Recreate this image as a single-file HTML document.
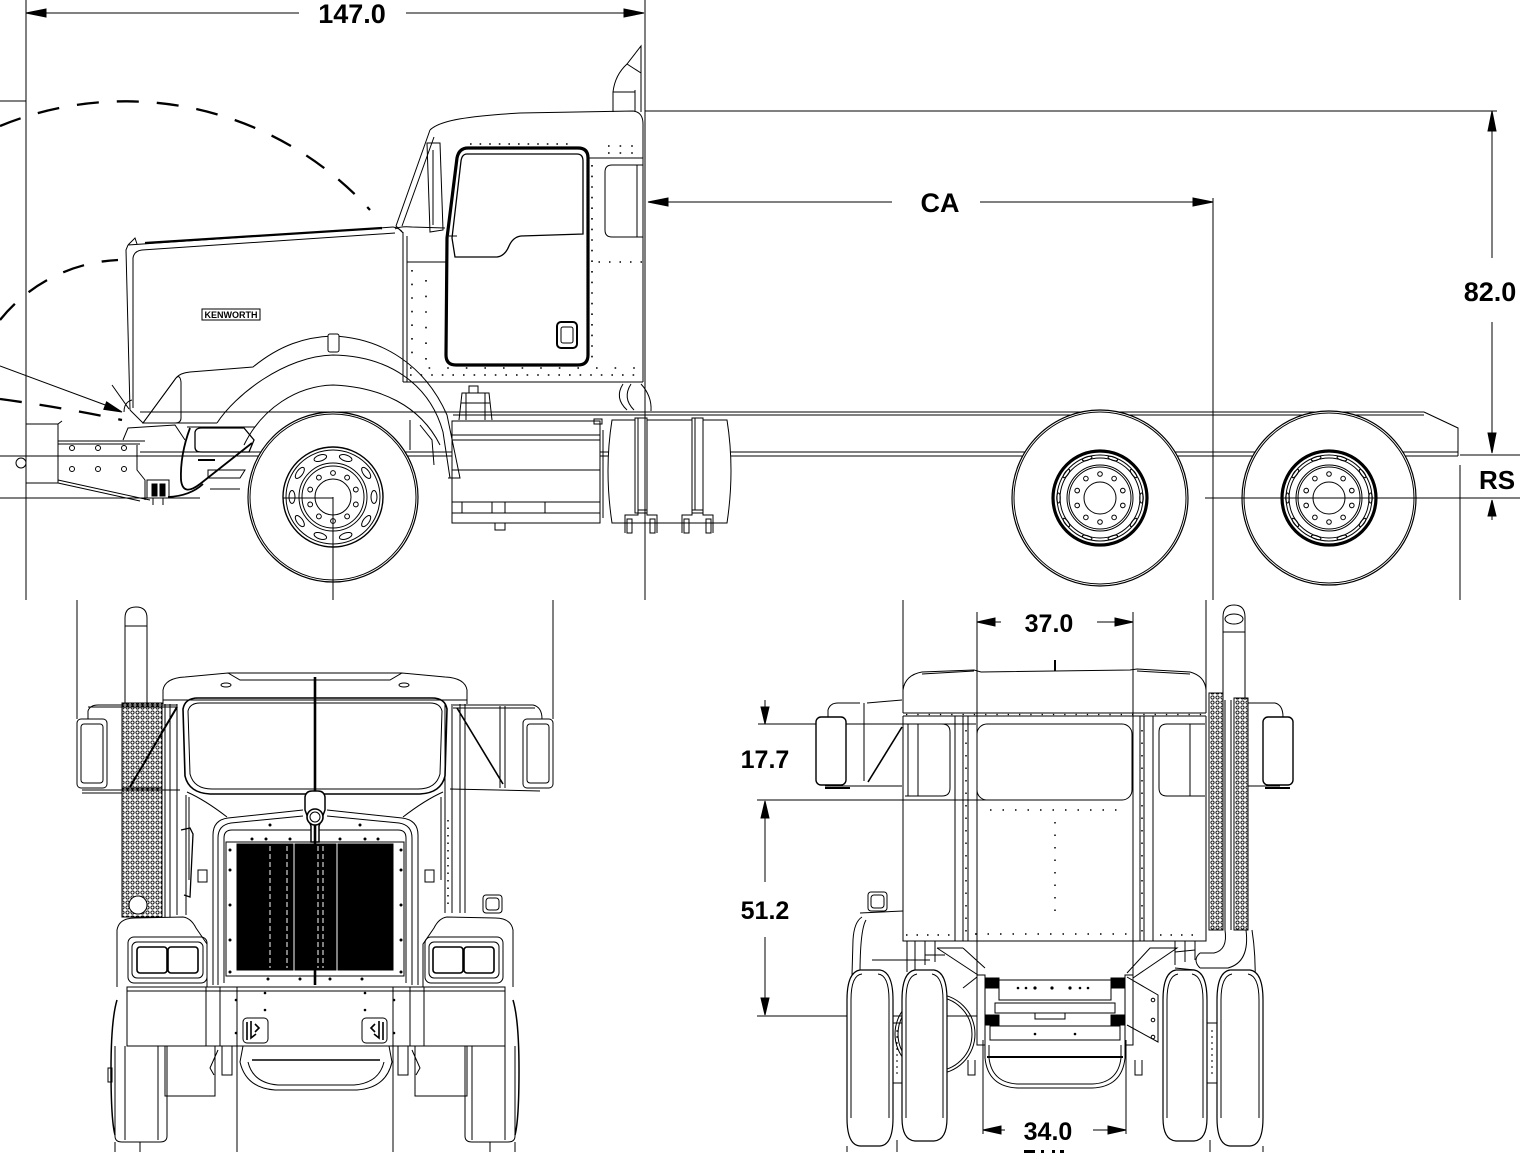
<!DOCTYPE html>
<html><head><meta charset="utf-8"><style>
html,body{margin:0;padding:0;background:#fff;}
svg{display:block;}
text{font-family:"Liberation Sans",sans-serif;font-weight:bold;fill:#000;stroke:none;}
</style></head><body>
<svg width="1526" height="1164" viewBox="0 0 1526 1164" xmlns="http://www.w3.org/2000/svg">
<defs>
<pattern id="perf" width="5" height="5" patternUnits="userSpaceOnUse"><circle cx="2.5" cy="2.5" r="1.6" fill="none" stroke="#000" stroke-width="0.9"/></pattern>
<g id="fhub" fill="none" stroke="#000">
<circle r="50" stroke-width="1.4"/><circle r="47"/>
<ellipse cx="41" cy="0" rx="3" ry="6.5"/>
<ellipse cx="41" cy="0" rx="3" ry="6.5" transform="rotate(36)"/>
<ellipse cx="41" cy="0" rx="3" ry="6.5" transform="rotate(72)"/>
<ellipse cx="41" cy="0" rx="3" ry="6.5" transform="rotate(108)"/>
<ellipse cx="41" cy="0" rx="3" ry="6.5" transform="rotate(144)"/>
<ellipse cx="41" cy="0" rx="3" ry="6.5" transform="rotate(180)"/>
<ellipse cx="41" cy="0" rx="3" ry="6.5" transform="rotate(216)"/>
<ellipse cx="41" cy="0" rx="3" ry="6.5" transform="rotate(252)"/>
<ellipse cx="41" cy="0" rx="3" ry="6.5" transform="rotate(288)"/>
<ellipse cx="41" cy="0" rx="3" ry="6.5" transform="rotate(324)"/>
<circle r="34"/><circle r="31"/>
<circle cx="24" cy="0" r="2.4" transform="rotate(18)"/>
<circle cx="24" cy="0" r="2.4" transform="rotate(54)"/>
<circle cx="24" cy="0" r="2.4" transform="rotate(90)"/>
<circle cx="24" cy="0" r="2.4" transform="rotate(126)"/>
<circle cx="24" cy="0" r="2.4" transform="rotate(162)"/>
<circle cx="24" cy="0" r="2.4" transform="rotate(198)"/>
<circle cx="24" cy="0" r="2.4" transform="rotate(234)"/>
<circle cx="24" cy="0" r="2.4" transform="rotate(270)"/>
<circle cx="24" cy="0" r="2.4" transform="rotate(306)"/>
<circle cx="24" cy="0" r="2.4" transform="rotate(342)"/>
<circle r="18"/>
</g>
<g id="rhub" fill="none" stroke="#000">
<circle r="47" stroke-width="3.2"/><circle r="43"/><circle r="40"/>
<ellipse cx="41.5" cy="0" rx="1.8" ry="5"/>
<ellipse cx="41.5" cy="0" rx="1.8" ry="5" transform="rotate(36)"/>
<ellipse cx="41.5" cy="0" rx="1.8" ry="5" transform="rotate(72)"/>
<ellipse cx="41.5" cy="0" rx="1.8" ry="5" transform="rotate(108)"/>
<ellipse cx="41.5" cy="0" rx="1.8" ry="5" transform="rotate(144)"/>
<ellipse cx="41.5" cy="0" rx="1.8" ry="5" transform="rotate(180)"/>
<ellipse cx="41.5" cy="0" rx="1.8" ry="5" transform="rotate(216)"/>
<ellipse cx="41.5" cy="0" rx="1.8" ry="5" transform="rotate(252)"/>
<ellipse cx="41.5" cy="0" rx="1.8" ry="5" transform="rotate(288)"/>
<ellipse cx="41.5" cy="0" rx="1.8" ry="5" transform="rotate(324)"/>
<circle r="33"/><circle r="31"/>
<circle cx="24" cy="0" r="2.3" transform="rotate(18)"/>
<circle cx="24" cy="0" r="2.3" transform="rotate(54)"/>
<circle cx="24" cy="0" r="2.3" transform="rotate(90)"/>
<circle cx="24" cy="0" r="2.3" transform="rotate(126)"/>
<circle cx="24" cy="0" r="2.3" transform="rotate(162)"/>
<circle cx="24" cy="0" r="2.3" transform="rotate(198)"/>
<circle cx="24" cy="0" r="2.3" transform="rotate(234)"/>
<circle cx="24" cy="0" r="2.3" transform="rotate(270)"/>
<circle cx="24" cy="0" r="2.3" transform="rotate(306)"/>
<circle cx="24" cy="0" r="2.3" transform="rotate(342)"/>
<circle r="16"/>
</g>
</defs>
<rect width="1526" height="1164" fill="#fff"/>

<g fill="none" stroke="#000" stroke-width="1">

<!-- ================= SIDE VIEW ================= -->
<line x1="26" y1="0" x2="26" y2="600"/>
<line x1="645" y1="0" x2="645" y2="600"/>
<line x1="26" y1="13" x2="299" y2="13"/>
<line x1="406" y1="13" x2="644" y2="13"/>
<polygon points="26,13 46,9 46,17" fill="#000"/>
<polygon points="644,13 624,9 624,17" fill="#000"/>
<line x1="0" y1="101" x2="26" y2="101"/>

<g stroke-width="2.3" stroke-dasharray="22 18">
<path d="M 0,126 A 330 330 0 0 1 370,210"/>
<path d="M 0,320 A 160 160 0 0 1 118,260"/>
<path d="M 0,399 Q 60,407 122,420"/>
</g>
<line x1="0" y1="366" x2="108" y2="406"/>
<polygon points="122,412 103.8,409.3 106.6,401.9" fill="#000"/>
<line x1="112" y1="385" x2="129" y2="409"/>
<path d="M 124,412 Q 124,402 132,400"/>

<line x1="648" y1="202" x2="892" y2="202"/>
<line x1="980" y1="202" x2="1213" y2="202"/>
<polygon points="648,202 668,198 668,206" fill="#000"/>
<polygon points="1213,202 1193,198 1193,206" fill="#000"/>
<line x1="1213" y1="198" x2="1213" y2="600"/>

<line x1="645" y1="111" x2="1497" y2="111"/>
<line x1="1492" y1="111" x2="1492" y2="258"/>
<line x1="1492" y1="322" x2="1492" y2="453"/>
<polygon points="1492,111 1488,131 1496,131" fill="#000"/>
<polygon points="1492,453 1488,433 1496,433" fill="#000"/>
<line x1="1460" y1="455" x2="1520" y2="455"/>
<line x1="1492" y1="500" x2="1492" y2="520"/>
<polygon points="1492,500 1488,516 1496,516" fill="#000"/>
<line x1="1460" y1="465" x2="1460" y2="600"/>

<line x1="140" y1="412" x2="1424" y2="412"/>
<line x1="453" y1="415" x2="1424" y2="415"/>
<path d="M 1424,412 L 1458,428 L 1458,456"/>
<line x1="140" y1="452" x2="1458" y2="452"/>
<line x1="0" y1="456" x2="1458" y2="456"/>
<line x1="187" y1="427" x2="255" y2="427"/>
<line x1="0" y1="498" x2="200" y2="498"/>

<path d="M 613,112 L 613,92 Q 615,75 627,64 L 641,46 L 641,112"/>
<line x1="635" y1="90" x2="635" y2="112"/>
<line x1="613" y1="92" x2="635" y2="92"/>
<line x1="627" y1="64" x2="641" y2="73"/>

<path d="M 430,130 C 440,120 470,116 520,113 L 633,111 Q 643,112 643,124 L 643,382"/>
<path d="M 430,130 L 396,226 L 402,232"/>
<path d="M 434,137 L 402,226"/>
<path d="M 427,143 L 440,143 L 443,230 L 430,232 Z"/>
<line x1="433" y1="150" x2="433" y2="225"/>
<path d="M 395,229 Q 400,226 412,227 L 445,228"/>
<line x1="403" y1="232" x2="403" y2="382"/>
<line x1="407" y1="236" x2="407" y2="382"/>
<line x1="403" y1="382" x2="643" y2="382"/>
<line x1="407" y1="262" x2="447" y2="262"/>
<line x1="588" y1="158" x2="643" y2="158"/>
<path d="M 643,165 L 612,165 Q 605,165 605,172 L 605,230 Q 605,237 612,237 L 643,237"/>
<line x1="637" y1="165" x2="637" y2="237"/>
<line x1="588" y1="262" x2="643" y2="262" stroke-dasharray="1.5 9" stroke-width="1.5"/>
<path d="M 468,148 L 578,148 Q 588,148 588,158 L 588,355 Q 588,365 578,365 L 456,365 Q 446,365 446,355 L 447,238 L 457,158 Q 459,148 468,148 Z" stroke-width="3.2"/>
<path d="M 467,154 L 577,154 Q 583,154 583,161 L 583,234 L 521,236 Q 513,237 509,246 Q 505,256 497,257 L 455,257 L 452,238 L 461,161 Q 462,154 467,154 Z" stroke-width="1.3"/>
<path d="M 449,236 L 457,236"/>
<rect x="557" y="322" width="20" height="26" rx="4" stroke-width="2"/>
<rect x="561" y="327" width="12" height="16" rx="2"/>
<g stroke-width="1.6">
<line x1="592" y1="165" x2="592" y2="360" stroke-dasharray="1.6 9"/>
<line x1="412" y1="270" x2="412" y2="365" stroke-dasharray="1.6 12"/>
<line x1="426" y1="280" x2="426" y2="365" stroke-dasharray="1.6 14"/>
<line x1="410" y1="375" x2="640" y2="375" stroke-dasharray="1.6 9"/>
<line x1="410" y1="368" x2="640" y2="368" stroke-dasharray="1.6 17"/>
<line x1="608" y1="146" x2="640" y2="146" stroke-dasharray="1.6 10"/>
<line x1="608" y1="153" x2="640" y2="153" stroke-dasharray="1.6 10"/>
<line x1="470" y1="144" x2="575" y2="144" stroke-dasharray="1.6 8"/>
</g>
<path d="M 623,384 Q 614,398 627,410"/>
<path d="M 631,384 Q 622,398 634,410"/>
<path d="M 641,384 Q 652,396 651,411"/>
<path d="M 459,420 L 462,393 L 489,393 L 492,420"/>
<rect x="469" y="386" width="9" height="7"/>
<line x1="461" y1="403" x2="490" y2="403"/>
<line x1="466" y1="393" x2="466" y2="420"/>
<line x1="485" y1="393" x2="485" y2="420"/>

<rect x="452" y="421" width="148" height="102" fill="#fff"/>
<line x1="452" y1="435" x2="600" y2="435"/>
<line x1="452" y1="440" x2="600" y2="440"/>
<line x1="452" y1="470" x2="600" y2="470"/>
<line x1="452" y1="502" x2="600" y2="502"/>
<line x1="452" y1="513" x2="600" y2="513"/>
<line x1="462" y1="502" x2="462" y2="513"/>
<line x1="492" y1="502" x2="492" y2="513"/>
<line x1="505" y1="502" x2="505" y2="513"/>
<line x1="545" y1="502" x2="545" y2="513"/>
<rect x="594" y="419" width="8" height="5"/>
<rect x="495" y="523" width="10" height="7"/>
<line x1="603" y1="430" x2="603" y2="518"/>

<path d="M 612,420 L 727,420 Q 735,470 727,523 L 612,523 Q 604,470 612,420 Z" fill="#fff"/>
<rect x="635" y="418" width="12" height="95" fill="#fff"/>
<line x1="638" y1="418" x2="638" y2="510"/>
<rect x="692" y="418" width="11" height="95" fill="#fff"/>
<line x1="695" y1="418" x2="695" y2="510"/>
<line x1="645" y1="418" x2="645" y2="540"/>
<path d="M 625,533 L 625,515 L 638,515 L 638,510 L 647,510 L 647,515 L 657,515 L 657,533"/>
<rect x="627" y="519" width="5" height="14"/><rect x="650" y="519" width="5" height="14"/>
<path d="M 682,533 L 682,515 L 692,515 L 692,510 L 703,510 L 703,515 L 713,515 L 713,533"/>
<rect x="684" y="519" width="5" height="14"/><rect x="706" y="519" width="5" height="14"/>

<circle cx="21" cy="463" r="5" fill="#fff"/>
<rect x="26" y="424" width="32" height="59" fill="#fff"/>
<path d="M 58,424 L 62,421"/>
<line x1="26" y1="456" x2="58" y2="456"/>
<line x1="58" y1="441" x2="145" y2="441"/>
<line x1="58" y1="444" x2="140" y2="444"/>
<path d="M 58,480 L 140,498 L 150,500"/>
<path d="M 58,483 L 140,501"/>
<circle cx="72" cy="448" r="2.5"/><circle cx="98" cy="448" r="2.5"/><circle cx="124" cy="448" r="2.5"/>
<circle cx="72" cy="469" r="2.5"/><circle cx="98" cy="469" r="2.5"/><circle cx="124" cy="469" r="2.5"/>
<path d="M 123,440 L 128,428 L 175,425 L 185,440"/>
<path d="M 137,445 L 137,470 L 145,480 L 145,500"/>
<rect x="147" y="480" width="22" height="18"/>
<rect x="152" y="484" width="5" height="12" fill="#000"/>
<rect x="160" y="484" width="5" height="12" fill="#000"/>
<line x1="153" y1="498" x2="153" y2="505"/><line x1="163" y1="498" x2="163" y2="505"/>
<path d="M 195,432 Q 196,428 201,428 L 244,428 L 254,440 L 249,452 L 201,452 Q 195,452 195,447 Z" stroke-width="1.3"/>
<path d="M 190,428 Q 180,455 181,480 Q 183,497 200,484 L 252,443" stroke-width="1.8"/>
<path d="M 168,497 Q 190,496 203,484" stroke-width="1.8"/>
<path d="M 208,470 L 245,470 L 240,478 L 208,478 Z"/>
<line x1="210" y1="489" x2="240" y2="489"/>
<line x1="198" y1="460" x2="215" y2="460" stroke-width="2"/>

<circle cx="333" cy="497" r="85" fill="#fff" stroke-width="1.2"/>
<circle cx="333" cy="497" r="83"/>
<use href="#fhub" x="333" y="497"/>
<line x1="333" y1="497" x2="333" y2="600"/>
<line x1="283" y1="498" x2="333" y2="498"/>

<path d="M 128,245 L 393,227"/>
<path d="M 145,243 L 382,228" stroke-width="2.2"/>
<path d="M 128,245 L 126,250 L 130,410"/>
<path d="M 128,245 L 135,238 L 137,244"/>
<path d="M 133,408 L 133,258 Q 134,251 142,250 L 395,233"/>
<path d="M 393,227 Q 400,228 403,233"/>
<rect x="202" y="309" width="58" height="11"/>
<text x="231" y="318" font-size="9" text-anchor="middle" font-weight="normal">KENWORTH</text>

<path d="M 130,410 L 143,423 L 176,378 Q 180,373 190,372 L 253,367 C 280,345 305,337 333,336 C 382,338 425,365 447,415 L 460,478 L 448,478"/>
<path d="M 143,423 L 176,378 Q 180,374 181,382 L 181,418 Q 181,423 175,423 Z"/>
<path d="M 143,423 L 217,423"/>
<path d="M 217,423 C 235,395 285,356 333,355 C 390,356 430,385 443,432 L 450,478"/>
<path d="M 244,445 C 262,408 297,386 333,385 C 380,387 420,405 440,445"/>
<rect x="328" y="334" width="11" height="18" rx="2" fill="#fff"/>
<path d="M 420,425 L 432,440 L 434,465"/>
<path d="M 410,420 L 410,450"/>

<circle cx="1100" cy="498" r="88" fill="#fff" stroke-width="1.2"/>
<circle cx="1100" cy="498" r="86"/>
<use href="#rhub" x="1100" y="498"/>
<circle cx="1329" cy="498" r="87" fill="#fff" stroke-width="1.2"/>
<circle cx="1329" cy="498" r="85"/>
<use href="#rhub" x="1329" y="498"/>
<line x1="1205" y1="498" x2="1520" y2="498"/>
<line x1="1213" y1="420" x2="1213" y2="600"/>

<!-- ================= FRONT VIEW ================= -->
<line x1="77" y1="600" x2="77" y2="719"/>
<line x1="553" y1="600" x2="553" y2="719"/>
<path d="M 125,704 L 125,618 Q 125,607 136,607 Q 147,607 147,618 L 147,704"/>
<line x1="125" y1="626" x2="147" y2="626"/>
<path d="M 163,704 L 163,690 Q 165,678 185,677 L 228,673 L 240,680 L 390,680 L 402,673 L 445,677 Q 465,678 467,690 L 467,704"/>
<path d="M 228,673 L 402,673"/>
<ellipse cx="226" cy="685" rx="5" ry="2"/><ellipse cx="404" cy="685" rx="5" ry="2"/>
<line x1="163" y1="700" x2="467" y2="700"/>
<path d="M 183,709 Q 185,698 198,698 L 432,698 Q 445,698 447,709 L 445,776 Q 441,793 420,794 L 210,794 Q 189,793 185,776 Z" stroke-width="1.6"/>
<path d="M 188,711 Q 190,703 200,703 L 430,703 Q 440,703 442,711 L 440,774 Q 436,789 418,789 L 212,789 Q 194,789 190,774 Z"/>
<rect x="122" y="703" width="40" height="214" fill="url(#perf)"/>
<rect x="122" y="703" width="40" height="214"/>
<line x1="122" y1="788" x2="162" y2="788"/>
<circle cx="138" cy="905" r="9" fill="#fff"/>
<line x1="177" y1="707" x2="130" y2="787" stroke-width="2"/>
<path d="M 88,719 L 88,711 Q 90,705 98,705 L 177,705"/>
<line x1="88" y1="707" x2="177" y2="707"/>
<rect x="77" y="719" width="30" height="69" rx="4" fill="#fff"/>
<rect x="81" y="724" width="22" height="59" rx="3"/>
<line x1="82" y1="790" x2="180" y2="790"/>
<line x1="82" y1="793" x2="122" y2="793"/>
<path d="M 453,705 L 533,705 Q 542,707 542,719"/>
<line x1="453" y1="708" x2="535" y2="708"/>
<rect x="523" y="719" width="30" height="69" rx="4" fill="#fff"/>
<rect x="527" y="724" width="22" height="59" rx="3"/>
<line x1="505" y1="706" x2="505" y2="788"/>
<line x1="500" y1="706" x2="500" y2="788"/>
<line x1="450" y1="789" x2="540" y2="791"/>
<line x1="457" y1="708" x2="503" y2="784" stroke-width="1.6"/>
<line x1="165" y1="704" x2="165" y2="917"/>
<line x1="170" y1="704" x2="170" y2="917"/>
<line x1="177" y1="704" x2="177" y2="915"/>
<line x1="186" y1="795" x2="186" y2="915"/>
<path d="M 181,830 L 190,828 L 193,834 L 190,897 L 184,895" stroke-width="1.3"/>
<line x1="445" y1="704" x2="445" y2="913"/>
<line x1="452" y1="704" x2="452" y2="913"/>
<line x1="460" y1="704" x2="460" y2="913"/>
<line x1="465" y1="704" x2="465" y2="913"/>
<line x1="448" y1="820" x2="448" y2="910" stroke-dasharray="1.5 6" stroke-width="1.5"/>
<path d="M 187,792 Q 205,800 227,817"/>
<path d="M 443,792 Q 425,800 403,817"/>
<path d="M 189,797 L 189,880"/><path d="M 441,797 L 441,880"/>
<rect x="198" y="870" width="9" height="12"/><rect x="425" y="870" width="9" height="12"/>
<rect x="483" y="895" width="19" height="18" rx="3"/><rect x="486" y="898" width="13" height="12" rx="3"/>
<path d="M 213,985 L 213,835 Q 213,820 228,818 L 303,810"/>
<path d="M 327,810 L 402,818 Q 418,820 418,835 L 418,985"/>
<path d="M 218,985 L 218,838 Q 218,825 231,823 L 303,816"/>
<path d="M 327,816 L 399,823 Q 412,825 412,838 L 412,985"/>
<path d="M 224,983 L 224,838 Q 224,830 232,830 L 398,830 Q 406,830 406,838 L 406,983"/>
<rect x="226" y="842" width="178" height="134"/>
<rect x="237" y="844" width="56" height="126" fill="#000"/>
<rect x="295" y="844" width="41" height="126" fill="#000"/>
<rect x="338" y="844" width="55" height="126" fill="#000"/>
<g stroke="#fff" stroke-dasharray="5 3">
<line x1="270" y1="846" x2="270" y2="968"/>
<line x1="287" y1="846" x2="287" y2="968"/>
<line x1="318" y1="846" x2="318" y2="968"/>
<line x1="323" y1="846" x2="323" y2="968"/>
</g>
<g fill="#000" stroke="none">
<circle cx="230" cy="850" r="1.5"/><circle cx="230" cy="870" r="1.5"/><circle cx="230" cy="905" r="1.5"/><circle cx="230" cy="940" r="1.5"/><circle cx="230" cy="972" r="1.5"/>
<circle cx="401" cy="850" r="1.5"/><circle cx="401" cy="870" r="1.5"/><circle cx="401" cy="905" r="1.5"/><circle cx="401" cy="940" r="1.5"/><circle cx="401" cy="972" r="1.5"/>
<circle cx="270" cy="825" r="1.5"/><circle cx="360" cy="825" r="1.5"/>
<circle cx="252" cy="839" r="1.5"/><circle cx="266" cy="839" r="1.5"/><circle cx="290" cy="839" r="1.5"/><circle cx="340" cy="839" r="1.5"/><circle cx="365" cy="839" r="1.5"/><circle cx="378" cy="839" r="1.5"/>
<circle cx="268" cy="979" r="1.5"/><circle cx="300" cy="979" r="1.5"/><circle cx="330" cy="979" r="1.5"/><circle cx="362" cy="979" r="1.5"/>
</g>
<line x1="315" y1="677" x2="315" y2="985" stroke-width="2.6"/>
<path d="M 305,810 L 305,797 Q 306,791 312,791 L 318,791 Q 324,791 325,797 L 325,810 Q 322,818 319,826 L 319,842 L 311,842 L 311,826 Q 308,818 305,810 Z" fill="#fff" stroke-width="1.5"/>
<circle cx="315" cy="817" r="8" fill="#fff" stroke-width="1.6"/>
<circle cx="315" cy="817" r="5"/>
<line x1="315" y1="825" x2="315" y2="842" stroke-width="2.6"/>
<path d="M 117,987 L 117,930 Q 119,918 135,918 L 183,917 Q 191,918 196,928 L 207,944 L 207,987"/>
<path d="M 513,987 L 513,930 Q 511,918 495,918 L 447,917 Q 439,918 434,928 L 423,944 L 423,987"/>
<rect x="128" y="937" width="79" height="46" rx="6"/>
<rect x="132" y="942" width="71" height="36" rx="5"/>
<rect x="137" y="947" width="30" height="26" rx="3" stroke-width="1.6"/>
<rect x="168" y="947" width="30" height="26" rx="3" stroke-width="1.6"/>
<rect x="425" y="937" width="78" height="46" rx="6"/>
<rect x="429" y="942" width="70" height="36" rx="5"/>
<rect x="433" y="947" width="30" height="26" rx="3" stroke-width="1.6"/>
<rect x="464" y="947" width="30" height="26" rx="3" stroke-width="1.6"/>
<rect x="127" y="987" width="378" height="59" fill="#fff"/>
<line x1="127" y1="991" x2="505" y2="991"/>
<line x1="206" y1="987" x2="206" y2="1046"/>
<line x1="220" y1="987" x2="220" y2="1046"/>
<line x1="237" y1="987" x2="237" y2="1152"/>
<line x1="393" y1="987" x2="393" y2="1152"/>
<line x1="410" y1="987" x2="410" y2="1046"/>
<line x1="424" y1="987" x2="424" y2="1046"/>
<rect x="243" y="1018" width="25" height="25" rx="4"/>
<path d="M 247,1022 L 247,1040 M 251,1021 L 251,1038 L 256,1034 M 255,1024 L 259,1028 L 255,1032" stroke-width="1.6"/>
<rect x="362" y="1018" width="25" height="25" rx="4"/>
<path d="M 383,1022 L 383,1040 M 379,1021 L 379,1038 L 374,1034 M 375,1024 L 371,1028 L 375,1032" stroke-width="1.6"/>
<g fill="#000" stroke="none">
<circle cx="265" cy="993" r="1.3"/><circle cx="265" cy="1010" r="1.3"/><circle cx="365" cy="993" r="1.3"/><circle cx="365" cy="1010" r="1.3"/>
<circle cx="236" cy="1000" r="1.3"/><circle cx="394" cy="1000" r="1.3"/><circle cx="236" cy="1033" r="1.3"/><circle cx="394" cy="1033" r="1.3"/>
</g>
<path d="M 115,1046 L 115,1136 Q 115,1142 122,1142 L 160,1142 Q 167,1142 167,1136 L 167,1046"/>
<line x1="125" y1="1046" x2="125" y2="1140"/>
<line x1="158" y1="1046" x2="158" y2="1140"/>
<path d="M 117,1000 Q 111,1020 111,1070 Q 111,1120 115,1135" stroke-width="1.5"/>
<rect x="108" y="1068" width="4" height="14"/>
<path d="M 165,1046 L 165,1096 L 215,1096 L 215,1046"/>
<path d="M 465,1046 L 465,1136 Q 465,1142 472,1142 L 508,1142 Q 515,1142 515,1136 L 515,1046"/>
<line x1="472" y1="1046" x2="472" y2="1140"/>
<line x1="505" y1="1046" x2="505" y2="1140"/>
<path d="M 513,1000 Q 519,1020 519,1070 Q 519,1120 515,1135" stroke-width="1.5"/>
<path d="M 415,1046 L 415,1096 L 467,1096 L 467,1046"/>
<path d="M 243,1046 L 240,1062 Q 246,1088 275,1090 L 357,1090 Q 386,1088 392,1062 L 389,1046"/>
<path d="M 248,1062 Q 253,1083 278,1085 L 354,1085 Q 379,1083 384,1062"/>
<line x1="252" y1="1060" x2="380" y2="1060" stroke-width="1.5"/>
<path d="M 222,1046 L 222,1075 L 232,1075 L 232,1046"/>
<path d="M 398,1046 L 398,1075 L 408,1075 L 408,1046"/>
<path d="M 218,1050 L 210,1068 L 214,1075"/>
<path d="M 412,1050 L 420,1068 L 416,1075"/>
<line x1="115" y1="1142" x2="115" y2="1152"/>
<line x1="140" y1="1142" x2="140" y2="1152"/>
<line x1="490" y1="1142" x2="490" y2="1152"/>
<line x1="515" y1="1142" x2="515" y2="1152"/>

<!-- ================= REAR VIEW ================= -->
<line x1="903" y1="600" x2="903" y2="700"/>
<line x1="1206" y1="600" x2="1206" y2="690"/>
<line x1="977" y1="612" x2="977" y2="1042"/>
<line x1="1133" y1="612" x2="1133" y2="1000"/>
<line x1="977" y1="622" x2="1001" y2="622"/>
<line x1="1097" y1="622" x2="1133" y2="622"/>
<polygon points="977,622 995,618 995,626" fill="#000"/>
<polygon points="1133,622 1115,618 1115,626" fill="#000"/>
<line x1="765" y1="700" x2="765" y2="708"/>
<polygon points="765,724 761,707 769,707" fill="#000"/>
<line x1="758" y1="724" x2="976" y2="724"/>
<line x1="757" y1="800" x2="1117" y2="800"/>
<polygon points="765,801 761,818 769,818" fill="#000"/>
<line x1="765" y1="818" x2="765" y2="882"/>
<line x1="765" y1="937" x2="765" y2="999"/>
<polygon points="765,1015 761,998 769,998" fill="#000"/>
<line x1="757" y1="1016" x2="977" y2="1016"/>
<line x1="983" y1="1040" x2="983" y2="1134"/>
<line x1="1126" y1="1040" x2="1126" y2="1134"/>
<line x1="983" y1="1130" x2="1005" y2="1130"/>
<line x1="1093" y1="1130" x2="1126" y2="1130"/>
<polygon points="983,1130 1001,1126 1001,1134" fill="#000"/>
<polygon points="1126,1130 1108,1126 1108,1134" fill="#000"/>
<g fill="#000" stroke="none">
<rect x="1024" y="1150" width="11" height="3"/><rect x="1041" y="1150" width="3" height="3"/><rect x="1052" y="1150" width="3" height="3"/><rect x="1060" y="1150" width="4" height="3"/>
</g>

<path d="M 903,713 L 903,690 Q 905,675 922,672 L 974,670 L 981,672 L 1130,670 L 1137,669 L 1190,672 Q 1205,676 1206,690 L 1206,713"/>
<path d="M 922,674 L 974,671"/><path d="M 1137,671 L 1190,674"/>
<line x1="1055" y1="660" x2="1055" y2="671" stroke-width="2"/>
<line x1="903" y1="713" x2="1206" y2="713"/>
<line x1="903" y1="716" x2="1206" y2="716"/>
<line x1="906" y1="714.5" x2="1203" y2="714.5" stroke-dasharray="1.3 10" stroke-width="1.3"/>
<path d="M 903,716 L 903,941 L 1206,941 L 1206,716"/>
<rect x="977" y="724" width="155" height="76" rx="10"/>
<path d="M 905,724 L 942,724 Q 950,724 950,732 L 950,788 Q 950,796 942,796 L 905,796"/>
<line x1="908" y1="724" x2="908" y2="796"/>
<line x1="918" y1="724" x2="918" y2="796"/>
<path d="M 1205,724 L 1167,724 Q 1159,724 1159,732 L 1159,788 Q 1159,796 1167,796 L 1205,796"/>
<line x1="1190" y1="724" x2="1190" y2="796"/>
<line x1="955" y1="716" x2="955" y2="941"/>
<line x1="963" y1="716" x2="963" y2="941"/>
<line x1="968" y1="716" x2="968" y2="941"/>
<line x1="1140" y1="716" x2="1140" y2="941"/>
<line x1="1144" y1="716" x2="1144" y2="941"/>
<line x1="1153" y1="716" x2="1153" y2="941"/>
<g stroke-width="1.5">
<line x1="966" y1="730" x2="966" y2="935" stroke-dasharray="1.5 11"/>
<line x1="1142" y1="730" x2="1142" y2="935" stroke-dasharray="1.5 11"/>
<line x1="990" y1="810" x2="1120" y2="810" stroke-dasharray="1.5 11"/>
<line x1="1055" y1="822" x2="1055" y2="918" stroke-dasharray="1.5 11"/>
<line x1="975" y1="934" x2="1130" y2="934" stroke-dasharray="1.5 11"/>
<line x1="906" y1="935" x2="950" y2="935" stroke-dasharray="1.5 9"/>
<line x1="1160" y1="935" x2="1200" y2="935" stroke-dasharray="1.5 9"/>
</g>
<path d="M 828,717 L 828,710 Q 830,703 838,703 L 860,703"/>
<line x1="867" y1="703" x2="902" y2="700"/>
<line x1="864" y1="703" x2="864" y2="781"/>
<line x1="902" y1="727" x2="868" y2="782" stroke-width="1.6"/>
<rect x="816" y="717" width="30" height="68" rx="5" fill="#fff" stroke-width="1.4"/>
<line x1="825" y1="786" x2="902" y2="786"/>
<line x1="825" y1="788" x2="850" y2="788" stroke-width="2"/>
<rect x="868" y="892" width="19" height="19" rx="3"/>
<rect x="871" y="895" width="13" height="13" rx="3"/>
<path d="M 860,913 L 903,911"/>
<path d="M 862,917 Q 854,922 853,940 L 852,975"/>
<path d="M 866,920 Q 860,930 860,975"/>
<line x1="872" y1="960" x2="930" y2="960"/>
<path d="M 907,941 L 907,972 M 915,941 L 915,975 M 925,941 L 925,965 M 935,941 L 935,962"/>
<path d="M 1175,941 L 1175,965 M 1185,941 L 1185,962 M 1195,941 L 1195,960"/>
<line x1="925" y1="955" x2="945" y2="955"/>
<path d="M 1223,700 L 1223,617 Q 1223,605 1234,605 Q 1245,605 1245,617 L 1245,700"/>
<ellipse cx="1234" cy="619" rx="9" ry="5"/>
<line x1="1223" y1="632" x2="1245" y2="632"/>
<rect x="1209" y="693" width="14" height="237" fill="url(#perf)"/>
<rect x="1209" y="693" width="14" height="237"/>
<rect x="1234" y="698" width="14" height="232" fill="url(#perf)"/>
<rect x="1234" y="698" width="14" height="232"/>
<line x1="1225" y1="700" x2="1225" y2="930"/>
<line x1="1231" y1="700" x2="1231" y2="930"/>
<path d="M 1246,930 Q 1250,962 1228,968 L 1200,968"/>
<path d="M 1225,930 Q 1228,950 1214,953 L 1200,953"/>
<path d="M 1200,953 Q 1192,960 1200,968"/>
<path d="M 1195,950 L 1175,952 M 1195,970 L 1175,968"/>
<path d="M 1252,930 Q 1256,955 1255,985 L 1252,1000"/>
<path d="M 1248,703 L 1275,703 Q 1283,705 1283,717"/>
<rect x="1263" y="717" width="30" height="68" rx="5" fill="#fff" stroke-width="1.4"/>
<line x1="1248" y1="786" x2="1280" y2="786"/>
<line x1="1265" y1="788" x2="1290" y2="788" stroke-width="2"/>
<circle cx="935" cy="1034" r="40"/>
<circle cx="935" cy="1034" r="37"/>
<path d="M 937,948 L 978,975"/>
<path d="M 963,948 L 985,968"/>
<path d="M 937,948 L 963,948"/>
<path d="M 963,988 L 977,977"/>
<path d="M 1127,973 L 1150,948 L 1177,948 L 1133,978"/>
<path d="M 1127,977 L 1158,995 L 1158,1042 L 1127,1025"/>
<circle cx="1153" cy="1000" r="1.8"/><circle cx="1153" cy="1020" r="1.8"/><circle cx="1153" cy="1037" r="1.8"/>
<rect x="977" y="975" width="8" height="70"/>
<rect x="1125" y="975" width="8" height="70"/>
<rect x="985" y="978" width="14" height="10" fill="#000"/>
<rect x="1111" y="978" width="14" height="10" fill="#000"/>
<rect x="985" y="1015" width="14" height="10" fill="#000"/>
<rect x="1111" y="1015" width="14" height="10" fill="#000"/>
<rect x="999" y="980" width="112" height="20"/>
<rect x="995" y="1003" width="120" height="10"/>
<rect x="990" y="1026" width="130" height="14"/>
<rect x="1035" y="1013" width="30" height="6"/>
<g fill="#000" stroke="none">
<circle cx="1018" cy="988" r="1.3"/><circle cx="1026" cy="988" r="1.3"/><circle cx="1035" cy="988" r="1.6"/><circle cx="1052" cy="988" r="1.6"/><circle cx="1070" cy="988" r="1.6"/><circle cx="1080" cy="988" r="1.3"/><circle cx="1088" cy="988" r="1.3"/>
<circle cx="1035" cy="1034" r="1.3"/><circle cx="1075" cy="1034" r="1.3"/>
</g>
<path d="M 985,1040 L 985,1058 Q 988,1087 1018,1088 L 1092,1088 Q 1122,1087 1125,1058 L 1125,1040"/>
<path d="M 989,1045 L 989,1058 Q 992,1083 1018,1084 L 1092,1084 Q 1118,1083 1121,1058 L 1121,1045"/>
<line x1="987" y1="1057" x2="1123" y2="1057" stroke-width="2"/>
<path d="M 968,1060 L 968,1075 L 975,1075 L 975,1060"/>
<path d="M 1135,1060 L 1135,1075 L 1142,1075 L 1142,1060"/>
<path d="M 847,1000 Q 847,972 860,970 L 880,970 Q 893,972 893,1000 L 893,1118 Q 893,1145 880,1146 L 860,1146 Q 847,1145 847,1118 Z" fill="#fff" stroke-width="1.2"/>
<path d="M 851,1000 Q 851,975 862,974 M 889,1000 Q 889,975 878,974 M 851,1118 L 851,1000 M 889,1118 L 889,1000"/>
<path d="M 902,1000 Q 902,972 915,970 L 934,970 Q 947,972 947,1000 L 947,1118 Q 947,1140 934,1141 L 915,1141 Q 902,1140 902,1118 Z" fill="#fff" stroke-width="1.2"/>
<path d="M 906,1118 L 906,1000 Q 906,976 917,974 M 943,1118 L 943,1000 Q 943,976 932,974"/>
<path d="M 1163,1000 Q 1163,972 1176,970 L 1194,970 Q 1207,972 1207,1000 L 1207,1118 Q 1207,1140 1194,1141 L 1176,1141 Q 1163,1140 1163,1118 Z" fill="#fff" stroke-width="1.2"/>
<path d="M 1167,1118 L 1167,1000 Q 1167,976 1178,974 M 1203,1118 L 1203,1000 Q 1203,976 1192,974"/>
<path d="M 1217,1000 Q 1217,972 1230,970 L 1250,970 Q 1263,972 1263,1000 L 1263,1118 Q 1263,1145 1250,1146 L 1230,1146 Q 1217,1145 1217,1118 Z" fill="#fff" stroke-width="1.2"/>
<path d="M 1221,1118 L 1221,1000 Q 1221,976 1232,974 M 1259,1118 L 1259,1000 Q 1259,976 1248,974"/>
<rect x="893" y="1023" width="9" height="60"/>
<line x1="897" y1="1030" x2="897" y2="1075" stroke-dasharray="2 4"/>
<rect x="1207" y="1023" width="10" height="60"/>
<line x1="1212" y1="1030" x2="1212" y2="1075" stroke-dasharray="2 4"/>
<line x1="847" y1="1146" x2="847" y2="1152"/>
<line x1="897" y1="1140" x2="897" y2="1152"/>
<line x1="1210" y1="1140" x2="1210" y2="1152"/>
<line x1="1263" y1="1146" x2="1263" y2="1152"/>
</g>

<text x="352" y="23" font-size="27" text-anchor="middle">147.0</text>
<text x="940" y="212" font-size="27" text-anchor="middle">CA</text>
<text x="1490" y="301" font-size="27" text-anchor="middle">82.0</text>
<text x="1497" y="489" font-size="26" text-anchor="middle">RS</text>
<text x="1049" y="632" font-size="25" text-anchor="middle">37.0</text>
<text x="765" y="768" font-size="25" text-anchor="middle">17.7</text>
<text x="765" y="919" font-size="25" text-anchor="middle">51.2</text>
<text x="1048" y="1140" font-size="25" text-anchor="middle">34.0</text>
</svg>
</body></html>
